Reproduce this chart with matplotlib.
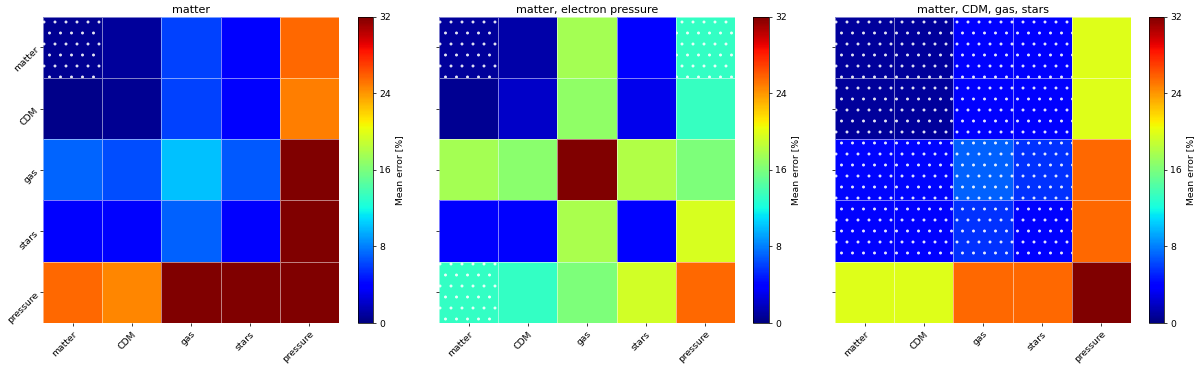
import numpy as np
import matplotlib
matplotlib.use("Agg")
import matplotlib.pyplot as plt
from matplotlib.patches import Rectangle


# -----------------------------
# Data (mean error in %)
# -----------------------------

fields = ["matter", "CDM", "gas", "stars", "pressure"]

titles = [
    "matter",
    "matter, electron pressure",
    "matter, CDM, gas, stars",
]

err_matter = [
    [0.5, 0.8, 6.0, 3.5, 25.5],
    [0.3, 0.5, 6.0, 3.5, 24.8],
    [7.2, 6.4, 10.0, 6.8, 32.0],
    [3.6, 4.0, 7.0, 3.7, 32.0],
    [25.5, 24.5, 32.0, 32.0, 32.0],
]

err_matter_pressure = [
    [0.8, 1.2, 17.6, 3.8, 13.2],
    [0.5, 2.0, 16.8, 3.0, 13.3],
    [17.5, 16.5, 32.0, 18.0, 16.0],
    [3.5, 3.6, 17.8, 3.5, 19.5],
    [13.2, 13.2, 16.0, 19.3, 25.5],
]

err_four = [
    [0.8, 0.8, 4.0, 3.8, 19.8],
    [0.8, 0.8, 4.0, 3.8, 19.8],
    [4.2, 4.2, 7.0, 5.5, 25.5],
    [4.0, 4.0, 5.5, 4.0, 25.5],
    [19.8, 19.8, 25.5, 25.5, 32.0],
]

# hatched cells (row, column) = pairs seen in training
hatched_matter = [(0, 0)]
hatched_matter_pressure = [(0, 0), (0, 4), (4, 0)]
hatched_four = [(r, c) for r in range(4) for c in range(4)]

panels = [
    (err_matter, hatched_matter),
    (err_matter_pressure, hatched_matter_pressure),
    (err_four, hatched_four),
]


# -----------------------------
# Figure layout
# -----------------------------

plt.rcParams["hatch.linewidth"] = 0.8

W, H = 1200, 369
fig = plt.figure(figsize=(18, 18 * H / W), dpi=W / 18)

ax_x = [(43, 339), (439, 735), (835, 1131)]
cb_x = [(358, 373), (753, 769), (1149, 1164)]
y_top, y_bot = 16.7, 323

bottom = 1 - y_bot / H
height = (y_bot - y_top) / H

for i, (data, hatched) in enumerate(panels):
    data = np.array(data)
    n = len(fields)

    ax = fig.add_axes([ax_x[i][0] / W, bottom,
                       (ax_x[i][1] - ax_x[i][0]) / W, height])
    cax = fig.add_axes([cb_x[i][0] / W, bottom,
                        (cb_x[i][1] - cb_x[i][0]) / W, height])

    mesh = ax.pcolormesh(
        data,
        cmap="jet",
        vmin=0,
        vmax=32,
        edgecolors=(1, 1, 1, 0.5),
        linewidth=0.7,
    )

    for r, c in hatched:
        ax.add_patch(Rectangle(
            (c, r), 1, 1,
            fill=False,
            hatch=".",
            edgecolor=(1, 1, 1, 0.85),
            linewidth=0,
        ))

    ax.set_xlim(0, n)
    ax.set_ylim(n, 0)
    for s in ax.spines.values():
        s.set_visible(False)

    ax.set_xticks(np.arange(n) + 0.5)
    ax.set_xticklabels(fields, rotation=45, ha="right",
                       rotation_mode="anchor")
    ax.set_yticks(np.arange(n) + 0.5)
    if i == 0:
        ax.set_yticklabels(fields, rotation=45, ha="right",
                           rotation_mode="anchor")
    else:
        ax.set_yticklabels([])

    ax.set_title(titles[i], pad=4)

    cb = fig.colorbar(mesh, cax=cax, ticks=[0, 8, 16, 24, 32])
    cb.set_label("Mean error [%]")

fig.savefig("out.png", dpi=W / 18)
